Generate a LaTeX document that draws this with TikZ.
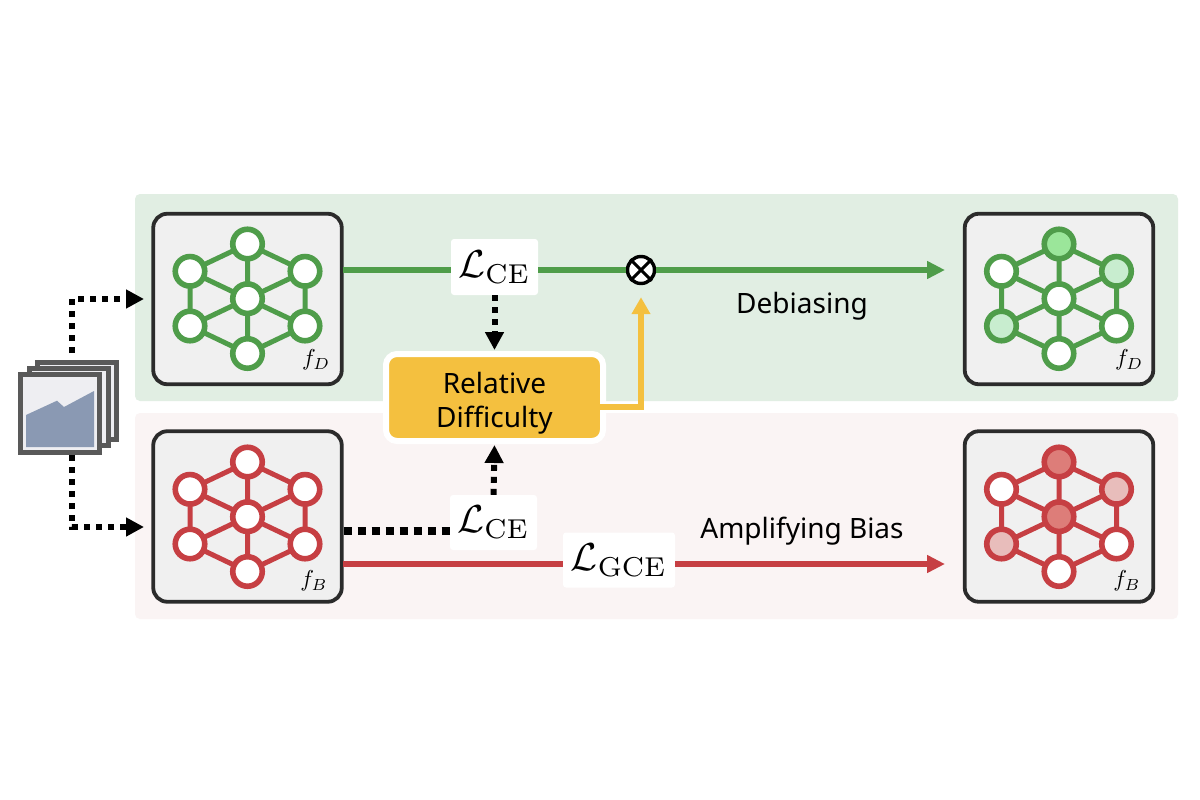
\documentclass[tikz,border=0pt]{standalone}
\usepackage[no-math]{fontspec}
\setmainfont{Noto Sans}
\usetikzlibrary{arrows.meta,positioning,calc}
\definecolor{gpanel}{HTML}{E1EEE3}
\definecolor{rpanel}{HTML}{FAF4F4}
\definecolor{gline}{HTML}{4F9D4A}
\definecolor{rline}{HTML}{C63F43}
\definecolor{boxfill}{HTML}{F0F0F0}
\definecolor{boxline}{HTML}{2B2B2B}
\definecolor{amber}{HTML}{F4C03F}
\definecolor{frame}{HTML}{595959}
\definecolor{sheet}{HTML}{EEEEF2}
\definecolor{hill}{HTML}{8A99B3}
\definecolor{gone}{HTML}{9BE69A}
\definecolor{gtwo}{HTML}{C8EDCF}
\definecolor{rone}{HTML}{DD7D79}
\definecolor{rtwo}{HTML}{E8BDBB}
\tikzset{
  panel/.style={rounded corners=5pt,inner sep=0pt,minimum width=1043pt,minimum height=207pt},
  netbox/.style={draw=boxline,line width=3.8pt,fill=boxfill,rounded corners=14pt,inner sep=0pt,minimum width=188.5pt,minimum height=170.5pt},
  unit/.style={circle,draw=#1,line width=5.6pt,fill=white,inner sep=0pt,minimum size=29.5pt},
  edge/.style={line width=5pt},
  lossbox/.style={fill=white,rounded corners=3pt,inner sep=0pt,minimum height=55pt},
  sheetbox/.style={draw=frame,line width=5pt,fill=sheet,inner sep=0pt,minimum width=78pt,minimum height=77pt},
  dotted link/.style={line width=6pt,dash pattern=on 6pt off 6pt,-{Triangle[length=18pt,width=18pt]}},
  solid link/.style={line width=5.4pt,-{Triangle[length=18pt,width=17pt]}},
  word/.style={font=\fontsize{28}{35}\selectfont,align=center,text=black,inner sep=0pt},
  tag/.style={inner sep=0pt,text=black}
}
% #1 prefix, #2 centre x, #3 top y, #4 colour, #5..#8 fills: top ul ur c
\newcommand{\netgraph}[8]{%
  \begin{scope}[xshift=#2 pt,yshift=-#3 pt]
    \path (0,0) coordinate (#1t) (-57.5,27.3) coordinate (#1ul) (57.5,27.3) coordinate (#1ur)
       (0,54.7) coordinate (#1c) (-57.5,82) coordinate (#1ll) (57.5,82) coordinate (#1lr) (0,109.5) coordinate (#1b);
    \draw[edge,draw=#4] (#1t)--(#1ul)--(#1ll)--(#1b)--(#1lr)--(#1ur)--(#1t)--(#1c)--(#1b)
       (#1ul)--(#1c)--(#1lr) (#1ur)--(#1c)--(#1ll);
    \node[unit=#4,fill=#5] (#1nt) at (#1t) {};
    \node[unit=#4,fill=#6] (#1nul) at (#1ul) {};
    \node[unit=#4,fill=#7] (#1nur) at (#1ur) {};
    \node[unit=#4,fill=#8] (#1nc) at (#1c) {};
  \end{scope}}
\newcommand{\netlower}[3]{%
    \node[unit=#1,fill=#2] at (#3ll) {};
    \node[unit=#1,fill=white] at (#3lr) {};
    \node[unit=#1,fill=white] at (#3b) {};}
\begin{document}
\begin{tikzpicture}[x=1pt,y=-1pt]
\useasboundingbox (0,0) rectangle (1200,800);
\fill[white] (0,0) rectangle (1200,800);
% panels
\node[panel,fill=gpanel] (gp) at (656.5,297.5) {};
\node[panel,fill=rpanel,minimum height=206pt] (rp) at (656.5,516) {};
% boxes
\node[netbox] (b1) at (247.5,299) {};
\node[netbox] (b2) at (1059,299) {};
\node[netbox] (b3) at (247.5,516.5) {};
\node[netbox] (b4) at (1059,516.5) {};
% networks
\netgraph{a}{247.5}{244}{gline}{white}{white}{white}{white}
\netlower{gline}{white}{a}
\netgraph{d}{1059}{244}{gline}{gone}{white}{gtwo}{white}
\netlower{gline}{gtwo}{d}
\netgraph{e}{247.5}{462}{rline}{white}{white}{white}{white}
\netlower{rline}{white}{e}
\netgraph{h}{1059}{462}{rline}{rone}{white}{rtwo}{rone}
\netlower{rline}{rtwo}{h}
% tags
\node[tag] (t1) at (316,360) {\scalebox{2.3}{$f_D$}};
\node[tag] (t2) at (1129,360) {\scalebox{2.3}{$f_D$}};
\node[tag] (t3) at (314,581) {\scalebox{2.3}{$f_B$}};
\node[tag] (t4) at (1127,581) {\scalebox{2.3}{$f_B$}};
% image stack
\node[sheetbox,minimum width=79pt] (s3) at (77,400.5) {};
\node[sheetbox,minimum width=79pt] (s2) at (69,406.5) {};
\node[sheetbox,minimum width=79pt,minimum height=78pt] (s1) at (60.2,413) {};
\fill[hill] (26,415) -- (57,400.7) -- (64,407) -- (94,391) -- (94,447) -- (26,447) -- cycle;
\coordinate (imgtop) at (72,353);
\coordinate (imgbot) at (72,455);
\coordinate (intop) at (144,299);
\coordinate (inbot) at (144,527);
% loss labels and difficulty box
\node[lossbox,minimum width=87pt,minimum height=56pt] (lce1) at (494.5,267) {\scalebox{3.9}{$\mathcal{L}_{\mathrm{CE}}$}};
\node[lossbox,minimum width=87pt] (lce2) at (493.5,522.5) {\scalebox{3.9}{$\mathcal{L}_{\mathrm{CE}}$}};
\node[lossbox,minimum width=112pt] (lgce) at (619,560) {\scalebox{3.9}{$\mathcal{L}_{\mathrm{GCE}}$}};
\node[draw=white,line width=6pt,fill=amber,rounded corners=11pt,inner sep=0pt,minimum width=217pt,minimum height=87pt,font=\fontsize{28}{35}\selectfont,align=center,text width=200pt] (rd) at (494.5,397.5) {\rule{0pt}{32pt}Relative\\[-1pt]Difficulty};
\node[circle,draw=black,line width=3.4pt,fill=white,inner sep=0pt,minimum size=27pt] (ot) at (641,270) {};
\draw[line width=3pt] (ot.north west) -- (ot.south east) (ot.north east) -- (ot.south west);
% connectors
\coordinate (g1) at (343,270);
\coordinate (g2) at (945,270);
\coordinate (r1) at (343,564);
\coordinate (r2) at (945,564);
\draw[line width=5.4pt,draw=gline] (g1) -- (lce1.west |- g1);
\draw[line width=5.4pt,draw=gline] (lce1.east |- g1) -- (ot);
\draw[solid link,draw=gline,fill=gline] (ot) -- (g2);
\draw[line width=5.4pt,draw=rline] (r1) -- (lgce.west |- r1);
\draw[solid link,draw=rline,fill=rline] (lgce.east |- r1) -- (r2);
\draw[dotted link] (imgtop) |- (intop);
\draw[dotted link] (imgbot) |- (inbot);
\draw[dotted link] (lce1.south) -- ($(rd.north)+(0,-1)$);
\draw[dotted link] (lce2.north) -- ($(rd.south)+(0,1)$);
\coordinate (b3out) at (343.5,531);
\draw[line width=8pt,dash pattern=on 8pt off 6pt] (b3out) -- (lce2.west |- b3out);
\coordinate (rdout) at (600,407);
\draw[line width=5.4pt,draw=amber,-{Triangle[length=17pt,width=18pt]}] (rdout) -| ($(ot.south)+(0,12)$);
% words
\node[word] (w1) at (802,306) {Debiasing};
\node[word] (w2) at (802,531) {Amplifying Bias};
\end{tikzpicture}
\end{document}
